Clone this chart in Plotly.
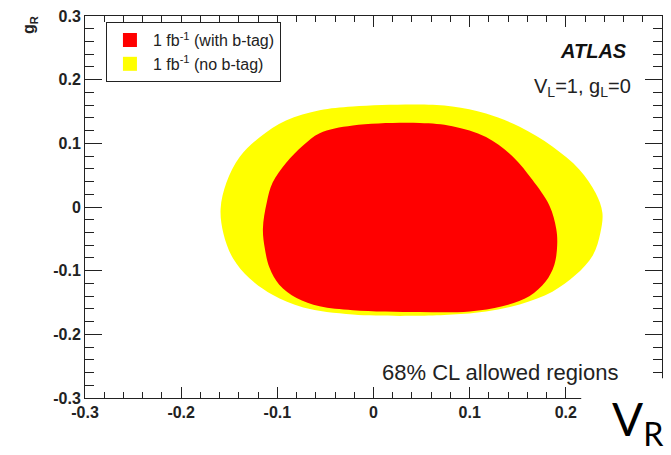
import plotly.graph_objects as go

# ---- data ----
# 68% CL contour, 1 fb^-1 without b-tag (yellow)
nobtag_vr = [0.048, 0.082, 0.117, 0.152, 0.186, 0.214, 0.231, 0.238, 0.236, 0.228, 0.210,
             0.186, 0.152, 0.117, 0.082, 0.048, -0.0215, -0.073, -0.105, -0.129, -0.146,
             -0.156, -0.159, -0.153, -0.139, -0.118, -0.091, -0.056, -0.0215, 0.048]
nobtag_gr = [0.161, 0.158, 0.147, 0.126, 0.095, 0.059, 0.022, -0.009, -0.040, -0.076, -0.107,
             -0.133, -0.153, -0.164, -0.169, -0.171, -0.169, -0.158, -0.138, -0.112, -0.081,
             -0.042, -0.003, 0.038, 0.079, 0.110, 0.136, 0.152, 0.158, 0.161]
# 68% CL contour, 1 fb^-1 with b-tag (red)
btag_vr = [0.048, 0.082, 0.117, 0.145, 0.165, 0.183, 0.190, 0.191, 0.188, 0.179, 0.162,
           0.134, 0.100, 0.048, -0.0215, -0.056, -0.080, -0.098, -0.108, -0.113, -0.115,
           -0.111, -0.105, -0.091, -0.073, -0.056, -0.0215, 0.048]
btag_gr = [0.132, 0.127, 0.110, 0.079, 0.043, 0.002, -0.034, -0.060, -0.091, -0.117, -0.140,
           -0.156, -0.164, -0.165, -0.162, -0.156, -0.143, -0.122, -0.096, -0.065, -0.034,
           0.007, 0.038, 0.069, 0.097, 0.116, 0.128, 0.132]

x_tickvals = [-0.3, -0.2, -0.1, 0.0, 0.1, 0.2]
x_ticktext = ["-0.3", "-0.2", "-0.1", "0", "0.1", "0.2"]
y_tickvals = [-0.3, -0.2, -0.1, 0.0, 0.1, 0.2, 0.3]
y_ticktext = ["-0.3", "-0.2", "-0.1", "0", "0.1", "0.2", "0.3"]

series_names = ["1 fb<sup>-1</sup> (with b-tag)", "1 fb<sup>-1</sup> (no b-tag)"]
series_colors = ["#ff0000", "#ffff00"]

TXT = "#222222"
FONT = "Liberation Sans"

fig = go.Figure()
fig.add_trace(go.Scatter(x=nobtag_vr, y=nobtag_gr, mode="lines", line=dict(width=0, shape="spline", smoothing=1.0),
                         fill="toself", fillcolor=series_colors[1], showlegend=False, hoverinfo="skip"))
fig.add_trace(go.Scatter(x=btag_vr, y=btag_gr, mode="lines", line=dict(width=0, shape="spline", smoothing=1.0),
                         fill="toself", fillcolor=series_colors[0], showlegend=False, hoverinfo="skip"))
# legend entries
for name, col in zip(series_names, series_colors):
    fig.add_trace(go.Scatter(x=[None], y=[None], mode="markers", name=name,
                             marker=dict(symbol="square", size=14, color=col)))

axis_common = dict(
    showline=True, linecolor=TXT, linewidth=1, mirror="ticks",
    ticks="inside", tickcolor=TXT, tickwidth=1,
    showgrid=False, zeroline=False,
    tickfont=dict(family=FONT, size=16, color=TXT, weight="bold"),
)

fig.update_xaxes(range=[-0.3, 0.3], tickvals=x_tickvals, ticktext=x_ticktext, ticklen=11,
                 minor=dict(dtick=0.02, ticks="inside", ticklen=6, tickcolor=TXT, showgrid=False),
                 **axis_common)
fig.update_yaxes(range=[-0.3, 0.3], tickvals=y_tickvals, ticktext=y_ticktext, ticklen=17,
                 minor=dict(dtick=0.02, ticks="inside", ticklen=9, tickcolor=TXT, showgrid=False),
                 **axis_common)

fig.update_layout(
    width=671, height=455,
    margin=dict(l=85, r=8, t=11, b=57),
    plot_bgcolor="white", paper_bgcolor="white",
    showlegend=True,
    legend=dict(x=0.0363, y=0.984, xanchor="left", yanchor="top",
                bordercolor=TXT, borderwidth=1, bgcolor="white",
                font=dict(family=FONT, size=16, color=TXT), itemwidth=36,
                tracegroupgap=0),
    shapes=[dict(type="rect", xref="paper", yref="paper", x0=0.86, x1=1.02, y0=-0.16, y1=0.0517,
                 fillcolor="white", line=dict(width=0), layer="above")],
    annotations=[
        dict(text="ATLAS", xref="paper", yref="paper", x=0.943, y=0.909, xanchor="right", yanchor="middle",
             showarrow=False, font=dict(family=FONT, size=20, color="#111111", weight="bold", style="italic")),
        dict(text="V<sub>L</sub>=1, g<sub>L</sub>=0", xref="paper", yref="paper", x=0.95, y=0.812,
             xanchor="right", yanchor="middle", showarrow=False,
             font=dict(family=FONT, size=20, color=TXT)),
        dict(text="68% CL allowed regions", xref="paper", yref="paper", x=0.928, y=0.068,
             xanchor="right", yanchor="middle", showarrow=False,
             font=dict(family=FONT, size=22, color=TXT)),
        dict(text="g<sub>R</sub>", xref="paper", yref="paper", x=-0.095, y=0.977, textangle=-90,
             xanchor="center", yanchor="middle", showarrow=False,
             font=dict(family=FONT, size=16, color=TXT, weight="bold")),
        dict(text="V<sub>R</sub>", xref="paper", yref="paper", x=1.006, y=-0.064,
             xanchor="right", yanchor="middle", showarrow=False,
             font=dict(family="Lato", size=46, color="black")),
    ],
)

fig.write_html("out.html")
